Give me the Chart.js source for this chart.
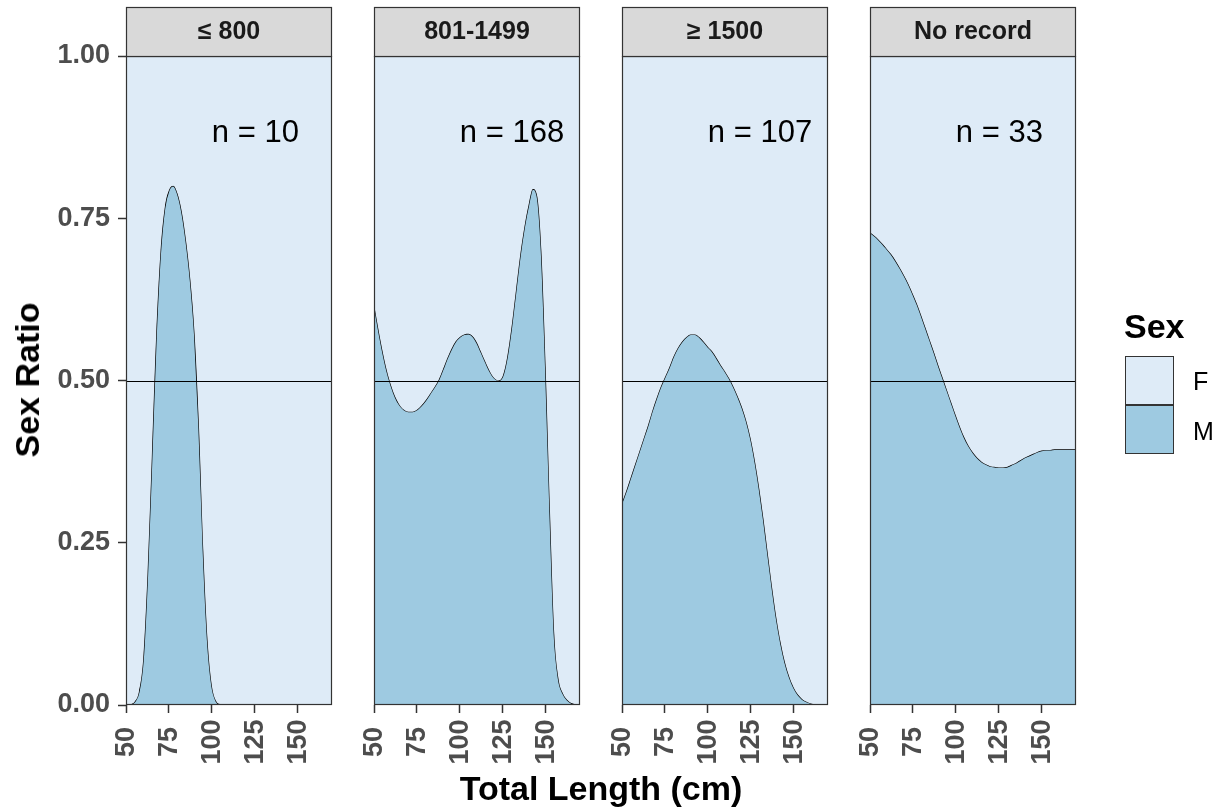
<!DOCTYPE html>
<html>
<head>
<meta charset="utf-8">
<script src="https://cdn.jsdelivr.net/npm/chart.js@4.4.1/dist/chart.umd.min.js"></script>
<style>
  body { margin: 0; background: #fff; font-family: 'Liberation Sans', Arial, sans-serif; }
  #wrap { position: relative; width: 1219px; height: 809px; overflow: hidden; }
  #wrap canvas { position: absolute; left: 0; top: 0; }
  .title { position: absolute; font-weight: bold; font-size: 34px; color: #000; white-space: nowrap; line-height: 1; }
  #ytitle { left: 27px; top: 380px; transform: translate(-50%, -50%) rotate(-90deg); }
  #xtitle { left: 601px; top: 788px; transform: translate(-50%, -50%); }
  #legtitle { left: 1124px; top: 309px; }
  .key { position: absolute; left: 1125px; width: 47px; height: 47px; border: 1px solid #333; }
  .keylab { position: absolute; left: 1193px; font-size: 25px; color: #000; line-height: 1; transform: translateY(-50%); }
</style>
</head>
<body>
<div id="wrap">
  <canvas id="panel0" width="1219" height="809"></canvas>
  <canvas id="panel1" width="1219" height="809"></canvas>
  <canvas id="panel2" width="1219" height="809"></canvas>
  <canvas id="panel3" width="1219" height="809"></canvas>
  <div class="title" id="ytitle">Sex Ratio</div>
  <div class="title" id="xtitle">Total Length (cm)</div>
  <div class="title" id="legtitle">Sex</div>
  <div class="key" id="keyF" style="top:356px"></div>
  <div class="key" id="keyM" style="top:405px"></div>
  <div class="keylab" style="top:381px">F</div>
  <div class="keylab" style="top:431px">M</div>
</div>

<script>
// ---------- data ----------
const sizeClasses = ['≤ 800', '801-1499', '≥ 1500', 'No record']
const sampleSizes = ['n = 10', 'n = 168', 'n = 107', 'n = 33']

// total length (cm) where the male share was read
const totalLength = [50, 52.5, 55, 57.5, 60, 62.5, 65, 67.5, 70, 72.5, 75, 77.5, 80, 82.5, 85, 87.5, 90, 92.5, 95, 97.5,
  100, 102.5, 105, 107.5, 110, 112.5, 115, 117.5, 120, 122.5, 125, 127.5, 130, 132.5, 135, 137.5, 140, 142.5, 145, 147.5,
  150, 152.5, 155, 157.5, 160, 162.5, 165, 167.5, 170]

// share of males (M) at each length, one list per size class
const maleLE800 = [0, 0.001, 0.005, 0.02, 0.07, 0.20, 0.38, 0.565, 0.695, 0.765, 0.793, 0.80, 0.788, 0.76, 0.715, 0.655, 0.57, 0.43, 0.24, 0.10,
  0.03, 0.006, 0.001, 0, 0, 0, 0, 0, 0, 0, 0, 0, 0, 0, 0, 0, 0, 0, 0, 0,
  0, 0, 0, 0, 0, 0, 0, 0, 0]
const male801to1499 = [0.618, 0.58, 0.545, 0.515, 0.492, 0.474, 0.462, 0.455, 0.452, 0.452, 0.455, 0.461, 0.469, 0.479, 0.489, 0.50, 0.516, 0.533, 0.548, 0.56,
  0.567, 0.571, 0.572, 0.568, 0.558, 0.543, 0.528, 0.514, 0.504, 0.50, 0.507, 0.535, 0.58, 0.635, 0.69, 0.735, 0.77, 0.795, 0.785, 0.70,
  0.52, 0.30, 0.11, 0.04, 0.018, 0.008, 0.003, 0.001, 0]
const maleGE1500 = [0.312, 0.33, 0.35, 0.37, 0.39, 0.41, 0.43, 0.452, 0.472, 0.49, 0.505, 0.52, 0.537, 0.55, 0.56, 0.567, 0.571, 0.571, 0.567, 0.56,
  0.552, 0.545, 0.535, 0.524, 0.514, 0.503, 0.49, 0.475, 0.458, 0.437, 0.41, 0.375, 0.333, 0.285, 0.232, 0.18, 0.133, 0.095, 0.065, 0.043,
  0.027, 0.016, 0.009, 0.005, 0.0025, 0.001, 0.0005, 0.0002, 0]
const maleNoRecord = [0.728, 0.723, 0.717, 0.71, 0.702, 0.694, 0.684, 0.673, 0.661, 0.648, 0.633, 0.617, 0.599, 0.58, 0.561, 0.542, 0.522, 0.503, 0.484, 0.465,
  0.446, 0.428, 0.412, 0.399, 0.389, 0.381, 0.375, 0.371, 0.368, 0.367, 0.366, 0.366, 0.367, 0.37, 0.373, 0.377, 0.381, 0.384, 0.387, 0.39,
  0.392, 0.393, 0.393, 0.394, 0.394, 0.394, 0.394, 0.394, 0.394]

const xTicks = [50, 75, 100, 125, 150]
const yTicks = [0, 0.25, 0.5, 0.75, 1]
const evenRatio = 0.5

// ---------- drawing ----------
const colF = '#deebf7'
const colM = '#9ecae1'
const FONT = "'Liberation Sans', Arial, sans-serif"
Chart.defaults.font.family = FONT

document.getElementById('keyF').style.background = colF
document.getElementById('keyM').style.background = colM

const allMale = [maleLE800, male801to1499, maleGE1500, maleNoRecord]

// panel frame, strip, half line, n label and rotated x labels
const facetPlugin = {
  id: 'facet',
  afterDatasetsDraw(chart, args, opts) {
    const { ctx, chartArea: a, scales: { x, y } } = chart
    ctx.save()

    // 0.5 line
    let yy = Math.round(y.getPixelForValue(evenRatio)) + 0.5
    ctx.strokeStyle = '#000'
    ctx.lineWidth = 1
    ctx.beginPath()
    ctx.moveTo(a.left, yy)
    ctx.lineTo(a.right, yy)
    ctx.stroke()

    // sample size
    ctx.fillStyle = '#000'
    ctx.font = '31px ' + FONT
    ctx.textAlign = 'left'
    ctx.textBaseline = 'middle'
    ctx.fillText(opts.count, x.getPixelForValue(100), y.getPixelForValue(0.88))

    // panel border
    ctx.strokeStyle = '#333'
    ctx.lineWidth = 1.2
    ctx.strokeRect(a.left + 0.5, a.top + 0.5, a.width - 1, a.height - 1)

    // strip
    ctx.fillStyle = '#d9d9d9'
    ctx.fillRect(a.left + 0.5, 7.5, a.width - 1, a.top - 7)
    ctx.strokeRect(a.left + 0.5, 7.5, a.width - 1, a.top - 7)
    ctx.fillStyle = '#1a1a1a'
    ctx.font = 'bold 25px ' + FONT
    ctx.textAlign = 'center'
    ctx.fillText(opts.strip, (a.left + a.right) / 2, (7 + a.top) / 2 + 1)

    // x tick labels, rotated and centred under each tick
    ctx.fillStyle = '#4d4d4d'
    ctx.font = 'bold 27px ' + FONT
    x.ticks.forEach(t => {
      ctx.save()
      ctx.translate(x.getPixelForValue(t.value), 742)
      ctx.rotate(-Math.PI / 2)
      ctx.fillText(String(t.value), 0, 1)
      ctx.restore()
    })
    ctx.restore()
  }
}

for (let i = 0; i < 4; i++) {
  const left = 126 + 248 * i
  const right = left + 206
  const pts = totalLength.map((v, k) => ({ x: v, y: allMale[i][k] }))

  new Chart(document.getElementById('panel' + i), {
    type: 'line',
    data: {
      datasets: [
        { label: 'F', data: pts, fill: 'end', backgroundColor: colF, borderWidth: 0, pointRadius: 0, cubicInterpolationMode: 'monotone' },
        { label: 'M', data: pts, fill: 'origin', backgroundColor: colM, borderColor: '#000', borderWidth: 1.3, pointRadius: 0, cubicInterpolationMode: 'monotone' }
      ]
    },
    options: {
      responsive: false,
      animation: false,
      events: [],
      layout: { padding: { left: i === 0 ? 0 : left, right: 1219 - right, top: 56, bottom: 0 } },
      plugins: {
        legend: { display: false },
        tooltip: { enabled: false },
        facet: { strip: sizeClasses[i], count: sampleSizes[i] }
      },
      scales: {
        x: {
          type: 'linear',
          min: 50,
          max: 170,
          afterBuildTicks: s => { s.ticks = xTicks.map(v => ({ value: v })) },
          afterFit: s => { s.height = 104 },
          ticks: { display: false },
          grid: { drawOnChartArea: false, drawTicks: true, tickLength: 8, tickColor: '#333', tickWidth: 1.5 },
          border: { display: false }
        },
        y: {
          display: i === 0,
          min: 0,
          max: 1,
          afterBuildTicks: s => { s.ticks = yTicks.map(v => ({ value: v })) },
          afterFit: s => { s.width = i === 0 ? 126 : 0 },
          ticks: {
            callback: v => Number(v).toFixed(2),
            color: '#4d4d4d',
            font: { size: 27, weight: 'bold' },
            padding: 8
          },
          grid: { drawOnChartArea: false, drawTicks: true, tickLength: 8, tickColor: '#333', tickWidth: 1.5 },
          border: { display: false }
        }
      }
    },
    plugins: [facetPlugin]
  })
}
</script>
</body>
</html>
